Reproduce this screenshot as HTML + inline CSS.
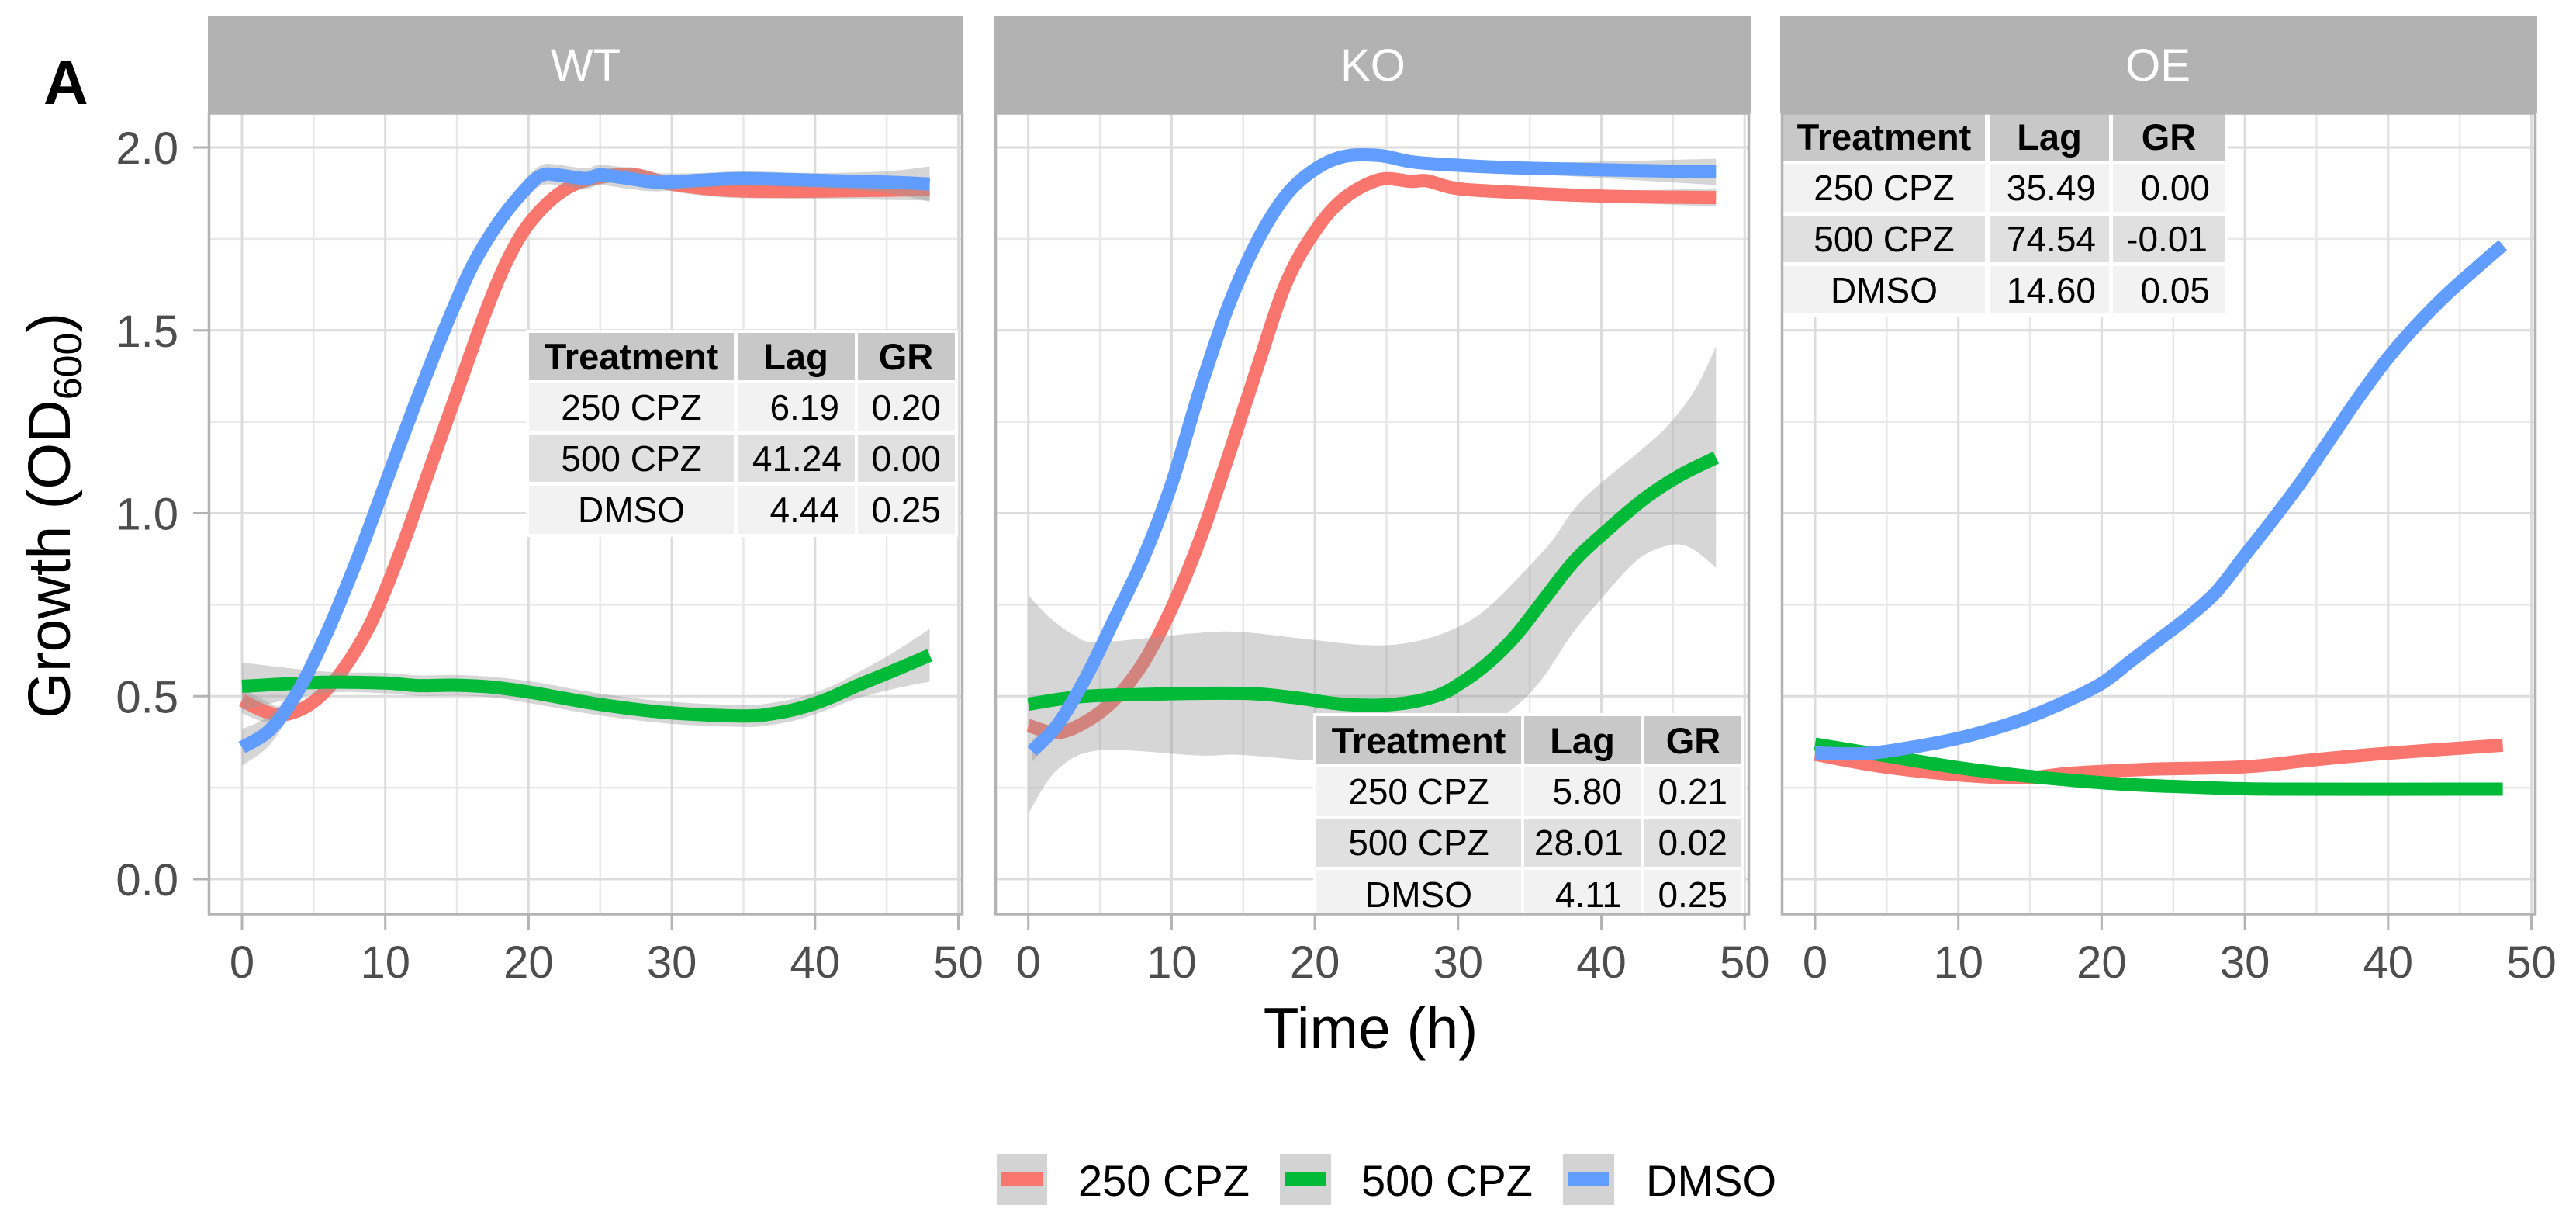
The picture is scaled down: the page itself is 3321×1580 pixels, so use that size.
<!DOCTYPE html>
<html lang="en">
<head>
<meta charset="utf-8">
<title>Growth curves</title>
<style>
html,body{margin:0;padding:0;background:#fff;width:3321px;height:1580px;overflow:hidden}
svg{display:block}
text{font-family:"Liberation Sans",Arial,sans-serif}
.tick{font-size:58px;fill:#4d4d4d}
.strip{font-size:58px;fill:#fff;text-anchor:middle}
.h{fill:#c8c8c8}.a{fill:#f2f2f2}.b{fill:#e0e0e0}
.th{font-size:47px;font-weight:bold;fill:#000;text-anchor:middle}
.tc{font-size:46px;fill:#000;text-anchor:middle}
.tr{font-size:46px;fill:#000;text-anchor:end}
.leg{font-size:56px;fill:#000}
</style>
</head>
<body>
<svg id="chart" xmlns="http://www.w3.org/2000/svg" width="3321" height="1580" viewBox="0 0 3321 1580">
<defs>
<clipPath id="clip-wt"><rect x="269" y="146" width="972" height="1032"/></clipPath>
<clipPath id="clip-ko"><rect x="1283" y="146" width="972" height="1032"/></clipPath>
<clipPath id="clip-oe"><rect x="2297" y="146" width="972" height="1032"/></clipPath>
</defs>
<rect width="3321" height="1580" fill="#fff"/>
<text x="56" y="134" font-size="80" font-weight="bold" fill="#000">A</text>

<rect x="268" y="20" width="974" height="126" fill="#b2b2b2"/>
<rect x="1282" y="20" width="975" height="126" fill="#b2b2b2"/>
<rect x="2295" y="20" width="976" height="126" fill="#b2b2b2"/>
<text class="strip" x="755" y="104">WT</text>
<text class="strip" x="1770" y="104">KO</text>
<text class="strip" x="2782" y="104">OE</text>

<g id="wt-grid" clip-path="url(#clip-wt)"></g>
<g id="ko-grid" clip-path="url(#clip-ko)"></g>
<g id="oe-grid" clip-path="url(#clip-oe)"></g>
<g id="axes"></g>
<g id="wt-marks" clip-path="url(#clip-wt)"></g>
<g id="ko-marks" clip-path="url(#clip-ko)"></g>
<g id="oe-marks" clip-path="url(#clip-oe)"></g>

<!-- WT table -->
<g>
<rect x="678" y="425" width="557" height="267" fill="#fff"/>
<rect class="h" x="682" y="429" width="264" height="61"/><rect class="h" x="951" y="429" width="151" height="61"/><rect class="h" x="1106" y="429" width="125" height="61"/>
<rect class="a" x="682" y="493" width="264" height="62"/><rect class="a" x="951" y="493" width="151" height="62"/><rect class="a" x="1106" y="493" width="125" height="62"/>
<rect class="b" x="682" y="560" width="264" height="61"/><rect class="b" x="951" y="560" width="151" height="61"/><rect class="b" x="1106" y="560" width="125" height="61"/>
<rect class="a" x="682" y="626" width="264" height="62"/><rect class="a" x="951" y="626" width="151" height="62"/><rect class="a" x="1106" y="626" width="125" height="62"/>
<text class="th" x="814" y="476">Treatment</text><text class="th" x="1026" y="476">Lag</text><text class="th" x="1168" y="476">GR</text>
<text class="tc" x="814" y="541">250 CPZ</text><text class="tr" x="1082" y="541">6.19</text><text class="tr" x="1213" y="541">0.20</text>
<text class="tc" x="814" y="607">500 CPZ</text><text class="tr" x="1085" y="607">41.24</text><text class="tr" x="1213" y="607">0.00</text>
<text class="tc" x="814" y="673">DMSO</text><text class="tr" x="1082" y="673">4.44</text><text class="tr" x="1213" y="673">0.25</text>
</g>

<!-- KO table -->
<g clip-path="url(#clip-ko)">
<rect x="1693" y="919" width="556" height="270" fill="#fff"/>
<rect class="h" x="1697" y="923" width="264" height="62"/><rect class="h" x="1965" y="923" width="151" height="62"/><rect class="h" x="2120" y="923" width="125" height="62"/>
<rect class="a" x="1697" y="988" width="264" height="63"/><rect class="a" x="1965" y="988" width="151" height="63"/><rect class="a" x="2120" y="988" width="125" height="63"/>
<rect class="b" x="1697" y="1055" width="264" height="62"/><rect class="b" x="1965" y="1055" width="151" height="62"/><rect class="b" x="2120" y="1055" width="125" height="62"/>
<rect class="a" x="1697" y="1121" width="264" height="63"/><rect class="a" x="1965" y="1121" width="151" height="63"/><rect class="a" x="2120" y="1121" width="125" height="63"/>
<text class="th" x="1829" y="971">Treatment</text><text class="th" x="2040" y="971">Lag</text><text class="th" x="2183" y="971">GR</text>
<text class="tc" x="1829" y="1036">250 CPZ</text><text class="tr" x="2091" y="1036">5.80</text><text class="tr" x="2227" y="1036">0.21</text>
<text class="tc" x="1829" y="1102">500 CPZ</text><text class="tr" x="2093" y="1102">28.01</text><text class="tr" x="2227" y="1102">0.02</text>
<text class="tc" x="1829" y="1169">DMSO</text><text class="tr" x="2091" y="1169">4.11</text><text class="tr" x="2227" y="1169">0.25</text>
</g>

<!-- OE table -->
<g clip-path="url(#clip-oe)">
<rect x="2295" y="143" width="577" height="265" fill="#fff"/>
<rect class="h" x="2299" y="147" width="260" height="60"/><rect class="h" x="2565" y="147" width="154" height="60"/><rect class="h" x="2724" y="147" width="144" height="60"/>
<rect class="a" x="2299" y="211" width="260" height="62"/><rect class="a" x="2565" y="211" width="154" height="62"/><rect class="a" x="2724" y="211" width="144" height="62"/>
<rect class="b" x="2299" y="278" width="260" height="60"/><rect class="b" x="2565" y="278" width="154" height="60"/><rect class="b" x="2724" y="278" width="144" height="60"/>
<rect class="a" x="2299" y="343" width="260" height="61"/><rect class="a" x="2565" y="343" width="154" height="61"/><rect class="a" x="2724" y="343" width="144" height="61"/>
<text class="th" x="2429" y="193">Treatment</text><text class="th" x="2642" y="193">Lag</text><text class="th" x="2796" y="193">GR</text>
<text class="tc" x="2429" y="258">250 CPZ</text><text class="tr" x="2702" y="258">35.49</text><text class="tr" x="2849" y="258">0.00</text>
<text class="tc" x="2429" y="324">500 CPZ</text><text class="tr" x="2702" y="324">74.54</text><text class="tr" x="2846" y="324">-0.01</text>
<text class="tc" x="2429" y="390">DMSO</text><text class="tr" x="2702" y="390">14.60</text><text class="tr" x="2849" y="390">0.05</text>
</g>

<rect x="269.5" y="146" width="971" height="1032" fill="none" stroke="#b3b3b3" stroke-width="3.5"/>
<rect x="1283.5" y="146" width="971" height="1032" fill="none" stroke="#b3b3b3" stroke-width="3.5"/>
<rect x="2297.5" y="146" width="971" height="1032" fill="none" stroke="#b3b3b3" stroke-width="3.5"/>

<text transform="translate(90,926) rotate(-90)" font-size="77" fill="#000">Growth (OD<tspan font-size="52" dy="15">600</tspan><tspan dy="-15">)</tspan></text>
<text x="1767" y="1351" font-size="75" fill="#000" text-anchor="middle">Time (h)</text>

<g>
<g><rect x="1285" y="1487" width="65" height="66" fill="#d3d3d3"/><rect x="1291" y="1511" width="53" height="17" fill="#F8766D"/><text class="leg" x="1390" y="1541">250 CPZ</text></g>
<g><rect x="1650" y="1487" width="66" height="66" fill="#d3d3d3"/><rect x="1656" y="1511" width="53" height="17" fill="#00BA38"/><text class="leg" x="1755" y="1541">500 CPZ</text></g>
<g><rect x="2015" y="1487" width="66" height="66" fill="#d3d3d3"/><rect x="2021" y="1511" width="53" height="17" fill="#619CFF"/><text class="leg" x="2122" y="1541">DMSO</text></g>
</g>
</svg>

<script>
// ---- tick values ----
const xMajorTicks = [0, 10, 20, 30, 40, 50];
const xMinorTicks = [5, 15, 25, 35, 45];
const yMajorTicks = [0, 0.5, 1, 1.5, 2];
const yMinorTicks = [0.25, 0.75, 1.25, 1.75];
const yTickLabels = ["0.0", "0.5", "1.0", "1.5", "2.0"];

// ---- WT ----
const wtRedTime = [0, 1.5, 3, 5, 7, 9, 11, 13, 15, 17, 18.5, 20, 22, 24, 27.1, 30, 33.8, 39, 48];
const wtRedY = [0.489, 0.46, 0.45, 0.485, 0.57, 0.7, 0.89, 1.11, 1.33, 1.55, 1.69, 1.79, 1.87, 1.91, 1.926, 1.9, 1.883, 1.88, 1.885];
const wtRedCi = [0.035, 0.03, 0.02, 0.02, 0.02, 0.02, 0.02, 0.02, 0.02, 0.02, 0.02, 0.02, 0.02, 0.02, 0.02, 0.02, 0.02, 0.02, 0.03];

const wtGreenTime = [0, 5.6, 10, 12.3, 15, 17.7, 20.4, 24.9, 29.8, 35, 37, 39, 41, 43, 45.5, 48];
const wtGreenY = [0.527, 0.538, 0.536, 0.529, 0.53, 0.524, 0.509, 0.478, 0.455, 0.446, 0.452, 0.468, 0.495, 0.53, 0.57, 0.612];
const wtGreenCi = [0.065, 0.03, 0.028, 0.028, 0.028, 0.028, 0.03, 0.03, 0.03, 0.03, 0.03, 0.03, 0.03, 0.035, 0.05, 0.072];

const wtBlueTime = [0, 2, 4, 6, 8, 10, 12, 14, 16, 18, 20, 21, 22, 24, 25, 27, 29, 32, 35, 40, 45, 48];
const wtBlueY = [0.36, 0.41, 0.52, 0.68, 0.87, 1.08, 1.29, 1.49, 1.67, 1.8, 1.895, 1.925, 1.925, 1.915, 1.925, 1.915, 1.905, 1.91, 1.915, 1.91, 1.905, 1.9];
const wtBlueCi = [0.05, 0.04, 0.025, 0.02, 0.02, 0.02, 0.02, 0.02, 0.02, 0.025, 0.028, 0.028, 0.028, 0.028, 0.028, 0.028, 0.025, 0.02, 0.02, 0.02, 0.03, 0.048];

// ---- KO ----
const koRedTime = [0, 2, 4, 6, 8, 10, 12, 14, 16, 18, 20, 22, 24.5, 26.7, 27.8, 29.6, 32.1, 40.1, 48];
const koRedY = [0.42, 0.4, 0.43, 0.49, 0.59, 0.74, 0.93, 1.16, 1.4, 1.63, 1.77, 1.86, 1.912, 1.907, 1.909, 1.89, 1.881, 1.867, 1.863];
const koRedCi = [0.02, 0.015, 0.012, 0.012, 0.012, 0.012, 0.012, 0.012, 0.012, 0.012, 0.012, 0.012, 0.012, 0.012, 0.012, 0.012, 0.012, 0.015, 0.025];

const koGreenTime = [0, 3.2, 6.8, 14.7, 18.4, 22, 25.6, 28.5, 30.3, 32.1, 34, 36, 38, 40, 43, 45.5, 48];
const koGreenY = [0.478, 0.497, 0.504, 0.508, 0.497, 0.478, 0.478, 0.501, 0.539, 0.591, 0.665, 0.765, 0.865, 0.94, 1.04, 1.104, 1.152];
const koGreenUpperTime = [0, 1.5, 3.2, 5, 11.5, 14.7, 19, 23, 25.6, 28, 30.3, 32.1, 34.3, 36.5, 38.7, 43, 44.8, 46.6, 48];
const koGreenUpper = [0.776, 0.715, 0.667, 0.648, 0.672, 0.676, 0.658, 0.641, 0.641, 0.659, 0.695, 0.743, 0.828, 0.922, 1.038, 1.18, 1.247, 1.342, 1.456];
const koGreenLowerTime = [0, 2, 5, 11.8, 14.7, 19.1, 23, 26, 30, 33.6, 35.8, 37.9, 40.1, 42.6, 44.8, 46.3, 48];
const koGreenLower = [0.18, 0.298, 0.352, 0.338, 0.34, 0.326, 0.32, 0.325, 0.37, 0.459, 0.544, 0.667, 0.771, 0.875, 0.913, 0.904, 0.851];

const koBlueTime = [0.25, 2, 4, 6, 8, 10, 12, 14, 16, 18, 20, 22, 24.5, 26.7, 29.6, 35, 48];
const koBlueY = [0.35, 0.42, 0.55, 0.71, 0.875, 1.08, 1.34, 1.57, 1.745, 1.87, 1.94, 1.975, 1.978, 1.961, 1.952, 1.943, 1.933];
const koBlueCi = [0.03, 0.02, 0.015, 0.012, 0.012, 0.012, 0.012, 0.012, 0.012, 0.012, 0.012, 0.012, 0.012, 0.012, 0.012, 0.015, 0.036];

// ---- OE ----
const oeRedTime = [0, 4.8, 10.3, 14.7, 17.7, 23.2, 30, 34.5, 39.6, 48];
const oeRedY = [0.341, 0.307, 0.284, 0.277, 0.289, 0.3, 0.307, 0.325, 0.343, 0.366];
const oeRedCi = [0.008, 0.006, 0.006, 0.006, 0.006, 0.006, 0.006, 0.006, 0.006, 0.008];

const oeGreenTime = [0, 4.8, 10.3, 15.5, 21.3, 26.8, 32.3, 48];
const oeGreenY = [0.369, 0.338, 0.303, 0.279, 0.26, 0.251, 0.246, 0.246];
const oeGreenCi = [0.008, 0.006, 0.006, 0.006, 0.006, 0.006, 0.006, 0.008];

const oeBlueTime = [0, 3.4, 6.7, 10.3, 14, 17.3, 20, 22, 24, 26, 28, 30, 32, 34, 36, 38, 40, 42, 44, 46, 48];
const oeBlueY = [0.345, 0.343, 0.36, 0.388, 0.43, 0.482, 0.535, 0.595, 0.655, 0.715, 0.785, 0.885, 0.985, 1.09, 1.205, 1.32, 1.425, 1.515, 1.595, 1.665, 1.733];
const oeBlueCi = [0.01, 0.006, 0.006, 0.006, 0.006, 0.006, 0.006, 0.006, 0.006, 0.006, 0.006, 0.006, 0.006, 0.006, 0.006, 0.006, 0.006, 0.006, 0.006, 0.006, 0.01];

// ---- layout ----
const SVGNS = 'http://www.w3.org/2000/svg';
const PX_PER_HOUR = 18.47;
const PX_PER_OD = 471.5;
const Y_ZERO = 1133;
const PANEL_TOP = 146;
const PANEL_BOTTOM = 1178;
const RED = '#F8766D';
const GREEN = '#00BA38';
const BLUE = '#619CFF';

function yAxis(v) { return Y_ZERO - v * PX_PER_OD; }
function xAxisFor(origin) { return function (t) { return origin + t * PX_PER_HOUR; }; }

function band(time, y, ci) {
  return {
    upperTime: time, lowerTime: time,
    upper: y.map(function (v, i) { return v + ci[i]; }),
    lower: y.map(function (v, i) { return v - ci[i]; })
  };
}

function make(tag, attrs, parent) {
  const el = document.createElementNS(SVGNS, tag);
  Object.keys(attrs).forEach(function (k) { el.setAttribute(k, attrs[k]); });
  parent.appendChild(el);
  return el;
}

function curveSegments(pts) {
  let d = '';
  for (let i = 0; i < pts.length - 1; i++) {
    const p0 = pts[Math.max(0, i - 1)];
    const p1 = pts[i];
    const p2 = pts[i + 1];
    const p3 = pts[Math.min(pts.length - 1, i + 2)];
    const c1x = p1[0] + (p2[0] - p0[0]) / 6;
    const c1y = p1[1] + (p2[1] - p0[1]) / 6;
    const c2x = p2[0] - (p3[0] - p1[0]) / 6;
    const c2y = p2[1] - (p3[1] - p1[1]) / 6;
    d += 'C' + c1x.toFixed(1) + ' ' + c1y.toFixed(1) + ' ' + c2x.toFixed(1) + ' ' + c2y.toFixed(1) + ' ' + p2[0].toFixed(1) + ' ' + p2[1].toFixed(1);
  }
  return d;
}

function toPoints(time, values, x) {
  return time.map(function (t, i) { return [x(t), yAxis(values[i])]; });
}

function linePath(time, values, x) {
  const pts = toPoints(time, values, x);
  return 'M' + pts[0][0].toFixed(1) + ' ' + pts[0][1].toFixed(1) + curveSegments(pts);
}

function ribbonPath(b, x) {
  const up = toPoints(b.upperTime, b.upper, x);
  const low = toPoints(b.lowerTime, b.lower, x).reverse();
  return 'M' + up[0][0].toFixed(1) + ' ' + up[0][1].toFixed(1) + curveSegments(up) +
    'L' + low[0][0].toFixed(1) + ' ' + low[0][1].toFixed(1) + curveSegments(low) + 'Z';
}

const panels = [
  { id: 'wt', origin: 312, left: 269, right: 1240, series: [
    { name: '250-cpz', color: RED, time: wtRedTime, y: wtRedY, band: band(wtRedTime, wtRedY, wtRedCi) },
    { name: '500-cpz', color: GREEN, time: wtGreenTime, y: wtGreenY, band: band(wtGreenTime, wtGreenY, wtGreenCi) },
    { name: 'dmso', color: BLUE, time: wtBlueTime, y: wtBlueY, band: band(wtBlueTime, wtBlueY, wtBlueCi) }
  ] },
  { id: 'ko', origin: 1325.7, left: 1283, right: 2254, series: [
    { name: '250-cpz', color: RED, time: koRedTime, y: koRedY, band: band(koRedTime, koRedY, koRedCi) },
    { name: '500-cpz', color: GREEN, time: koGreenTime, y: koGreenY, band: { upperTime: koGreenUpperTime, upper: koGreenUpper, lowerTime: koGreenLowerTime, lower: koGreenLower } },
    { name: 'dmso', color: BLUE, time: koBlueTime, y: koBlueY, band: band(koBlueTime, koBlueY, koBlueCi) }
  ] },
  { id: 'oe', origin: 2340, left: 2297, right: 3268, series: [
    { name: '250-cpz', color: RED, time: oeRedTime, y: oeRedY, band: band(oeRedTime, oeRedY, oeRedCi) },
    { name: '500-cpz', color: GREEN, time: oeGreenTime, y: oeGreenY, band: band(oeGreenTime, oeGreenY, oeGreenCi) },
    { name: 'dmso', color: BLUE, time: oeBlueTime, y: oeBlueY, band: band(oeBlueTime, oeBlueY, oeBlueCi) }
  ] }
];

const axesGroup = document.getElementById('axes');

panels.forEach(function (p, panelIndex) {
  const x = xAxisFor(p.origin);
  const grid = document.getElementById(p.id + '-grid');
  const marks = document.getElementById(p.id + '-marks');

  yMinorTicks.forEach(function (v) {
    const l = make('line', { x1: p.left, x2: p.right, y1: yAxis(v), y2: yAxis(v), stroke: '#e8e8e8', 'stroke-width': 2.5 }, grid);
    
    
  });
  xMinorTicks.forEach(function (t) {
    const l = make('line', { x1: x(t), x2: x(t), y1: PANEL_TOP, y2: PANEL_BOTTOM, stroke: '#e8e8e8', 'stroke-width': 2.5 }, grid);
    
    
  });
  yMajorTicks.forEach(function (v, i) {
    const l = make('line', { x1: p.left, x2: p.right, y1: yAxis(v), y2: yAxis(v), stroke: '#dcdcdc', 'stroke-width': 3 }, grid);
    
    
    if (panelIndex === 0) {
      const tick = make('line', { x1: 249, x2: 269, y1: yAxis(v), y2: yAxis(v), stroke: '#b3b3b3', 'stroke-width': 3 }, axesGroup);
      
      
      const label = make('text', { x: 230, y: yAxis(v) + 21, 'text-anchor': 'end', class: 'tick' }, axesGroup);
      
      
      label.textContent = yTickLabels[i];
    }
  });
  xMajorTicks.forEach(function (t) {
    const l = make('line', { x1: x(t), x2: x(t), y1: PANEL_TOP, y2: PANEL_BOTTOM, stroke: '#dcdcdc', 'stroke-width': 3 }, grid);
    
    
    const tick = make('line', { x1: x(t), x2: x(t), y1: PANEL_BOTTOM, y2: 1198, stroke: '#b3b3b3', 'stroke-width': 3 }, axesGroup);
    
    
    const label = make('text', { x: x(t), y: 1260, 'text-anchor': 'middle', class: 'tick' }, axesGroup);
    
    
    label.textContent = String(t);
  });

  p.series.forEach(function (s) {
    const ribbon = make('path', { d: ribbonPath(s.band, x), fill: 'rgb(153,153,153)', 'fill-opacity': 0.4 }, marks);
    
    
    const line = make('path', { d: linePath(s.time, s.y, x), fill: 'none', stroke: s.color, 'stroke-width': 17, 'stroke-linejoin': 'round' }, marks);
    
    
  });
});
</script>
</body>
</html>
